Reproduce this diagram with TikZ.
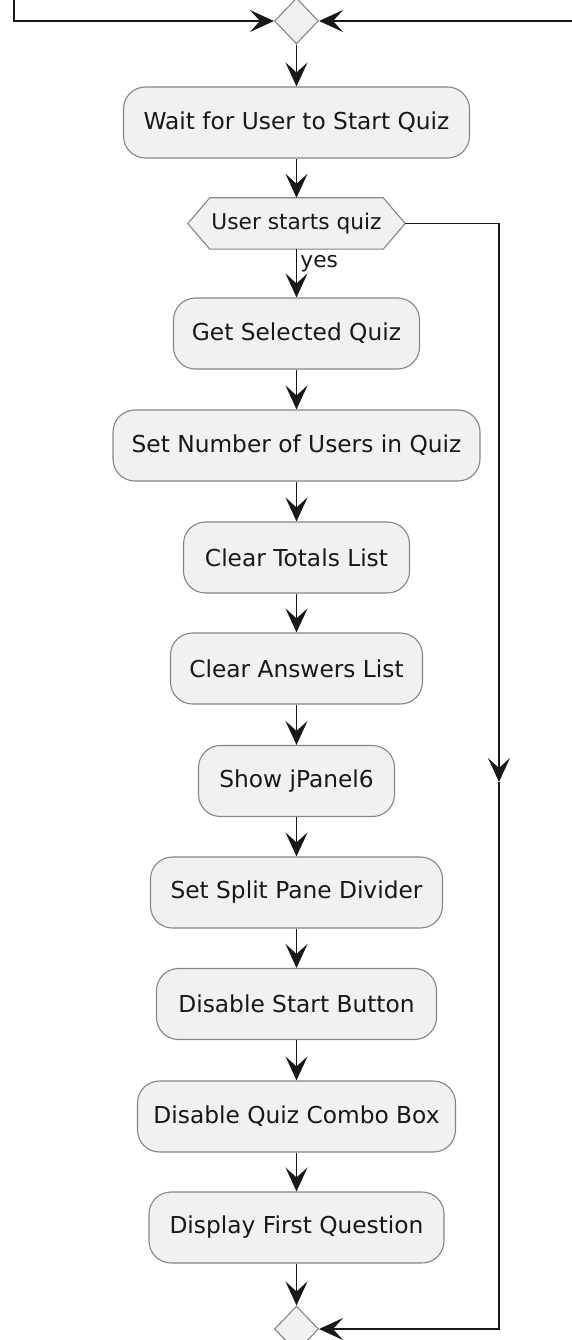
\documentclass[tikz,border=0pt]{standalone}
\usepackage{fontspec}
\setmainfont{DejaVu Sans}
\usetikzlibrary{arrows.meta,shapes.geometric,calc}

\definecolor{boxfill}{HTML}{F1F1F1}
\definecolor{boxline}{HTML}{858585}
\definecolor{ink}{HTML}{181818}

\tikzset{
  act/.style={draw=boxline, line width=1.1pt, fill=boxfill, rounded corners=22pt,
    minimum height=71pt, inner sep=0pt, text=ink,
    font=\fontsize{23.3}{28}\selectfont},
  merge/.style={diamond, draw=boxline, line width=1.1pt, fill=boxfill,
    minimum width=44pt, minimum height=46pt, inner sep=0pt},
  condtext/.style={inner sep=0pt, minimum width=217pt, minimum height=51pt,
    text=ink, font=\fontsize{21.7}{26}\selectfont},
  flow/.style={draw=ink, line width=1.8pt,
    -{Stealth[length=24pt, width=22pt, inset=10pt]}},
  lbl/.style={inner sep=0pt, text=ink, font=\fontsize{21.7}{26}\selectfont}
}

\begin{document}
\begin{tikzpicture}[x=1pt, y=-1pt]
  \useasboundingbox (0,0) rectangle (572,1340);

  % incoming branches and top merge
  \node[merge] (m1) at (296.5,21) {};
  \coordinate (inL) at (14,-3);
  \coordinate (inR) at (575,21);
  \draw[flow] (inL) |- (m1.west);
  \draw[flow] (inR) -- (m1.east);

  % activities
  \node[act, minimum width=346pt] (wait) at (296.5,122.5) {Wait for User to Start Quiz};

  % decision
  \node[condtext] (dec) at (296.5,223.5) {};
  \draw[draw=boxline, line width=1.1pt, fill=boxfill]
    (dec.west) -- ($(dec.north west)+(22,0)$) -- ($(dec.north east)+(-22,0)$)
    -- (dec.east) -- ($(dec.south east)+(-22,0)$) -- ($(dec.south west)+(22,0)$) -- cycle;
  \node[lbl] at (dec.center) {User starts quiz};

  \node[act, minimum width=246pt] (getq)  at (296.5,333.5)  {Get Selected Quiz};
  \node[act, minimum width=367pt] (setn)  at (296.5,445.5)  {Set Number of Users in Quiz};
  \node[act, minimum width=226pt] (clrt)  at (296.5,557.5)  {Clear Totals List};
  \node[act, minimum width=252pt] (clra)  at (296.5,668.5)  {Clear Answers List};
  \node[act, minimum width=196pt] (show)  at (296.5,781)    {Show jPanel6};
  \node[act, minimum width=292pt] (split) at (296.5,892.5)  {Set Split Pane Divider};
  \node[act, minimum width=280pt] (dstb)  at (296.5,1004)   {Disable Start Button};
  \node[act, minimum width=318pt] (dcmb)  at (296.5,1116.5) {Disable Quiz Combo Box};
  \node[act, minimum width=295pt] (disp)  at (296.5,1227.5) {Display First Question};

  % bottom merge
  \node[merge] (m2) at (296.5,1329) {};

  % main flow
  \draw[flow] (m1.south) -- (wait.north);
  \draw[flow] (wait.south) -- (dec.north);
  \draw[flow] (dec.south) -- node[lbl, pos=0.3, anchor=west, xshift=3pt] {yes} (getq.north);
  \draw[flow] (getq.south) -- (setn.north);
  \draw[flow] (setn.south) -- (clrt.north);
  \draw[flow] (clrt.south) -- (clra.north);
  \draw[flow] (clra.south) -- (show.north);
  \draw[flow] (show.south) -- (split.north);
  \draw[flow] (split.south) -- (dstb.north);
  \draw[flow] (dstb.south) -- (dcmb.north);
  \draw[flow] (dcmb.south) -- (disp.north);
  \draw[flow] (disp.south) -- (m2.north);

  % bypass branch on the right
  \coordinate (mid) at (499,782);
  \draw[flow] (dec.east) -| (mid);
  \draw[flow] (mid) |- (m2.east);
\end{tikzpicture}
\end{document}
